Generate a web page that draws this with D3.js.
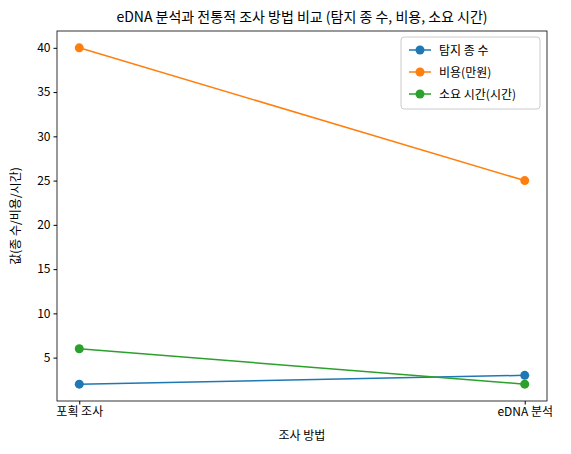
<!DOCTYPE html><html><head><meta charset="utf-8"><script src="https://cdn.jsdelivr.net/npm/d3@7"></script>
<style>body{margin:0;background:#fff}text{font-family:"Noto Sans CJK KR","DejaVu Sans",sans-serif}</style></head><body>
<svg id="c" width="571" height="454"></svg>
<script>
const categories=["포획 조사","eDNA 분석"];
const species=[2,3];
const cost=[40,25];
const time=[6,2];
const yTicks=[5,10,15,20,25,30,35,40];
const series=[{name:"탐지 종 수",v:species,c:"#1f77b4"},{name:"비용(만원)",v:cost,c:"#ff7f0e"},{name:"소요 시간(시간)",v:time,c:"#2ca02c"}];
const L=57,R=547,T=31,B=401;
const svg=d3.select("#c");
const x=d3.scaleLinear().domain([-0.05,1.05]).range([L,R]);
const y=d3.scaleLinear().domain([0.1,41.9]).range([B,T]);
const ya=svg.append("g").attr("transform",`translate(${L},0)`).call(d3.axisLeft(y).tickValues(yTicks).tickSize(3.5).tickPadding(3));
const xa=svg.append("g").attr("transform",`translate(0,${B})`).call(d3.axisBottom(x).tickValues([0,1]).tickFormat(i=>categories[i]).tickSize(3.5).tickPadding(3));
[ya,xa].forEach(a=>{a.selectAll("text").attr("font-size",12).attr("fill","#000");a.select(".domain").remove();a.selectAll("line").attr("stroke","#000");});
svg.append("rect").attr("x",L).attr("y",T).attr("width",R-L).attr("height",B-T).attr("fill","none").attr("stroke","#000").attr("stroke-width",0.8);
const line=d3.line().x((d,i)=>x(i)).y(d=>y(d));
series.forEach(s=>{
svg.append("path").attr("d",line(s.v)).attr("fill","none").attr("stroke",s.c).attr("stroke-width",1.5);
s.v.forEach((d,i)=>svg.append("circle").attr("cx",x(i)).attr("cy",y(d)).attr("r",4.5).attr("fill",s.c));
});
svg.append("text").attr("x",(L+R)/2).attr("y",22).attr("text-anchor","middle").attr("font-size",14).text("eDNA 분석과 전통적 조사 방법 비교 (탐지 종 수, 비용, 소요 시간)");
svg.append("text").attr("x",(L+R)/2).attr("y",440).attr("text-anchor","middle").attr("font-size",12).text("조사 방법");
svg.append("text").attr("transform",`translate(20,${(T+B)/2}) rotate(-90)`).attr("text-anchor","middle").attr("font-size",12).text("값(종 수/비용/시간)");
const lg=svg.append("g").attr("transform","translate(401,37)");
lg.append("rect").attr("width",139).attr("height",72).attr("rx",3).attr("fill","#fff").attr("stroke","#ccc");
series.forEach((s,i)=>{const g=lg.append("g").attr("transform",`translate(8,${13+i*22})`);
g.append("line").attr("x1",0).attr("x2",22).attr("stroke",s.c).attr("stroke-width",1.5);
g.append("circle").attr("cx",11).attr("r",4.5).attr("fill",s.c);
g.append("text").attr("x",30).attr("y",4.5).attr("font-size",12).text(s.name);});
</script></body></html>
